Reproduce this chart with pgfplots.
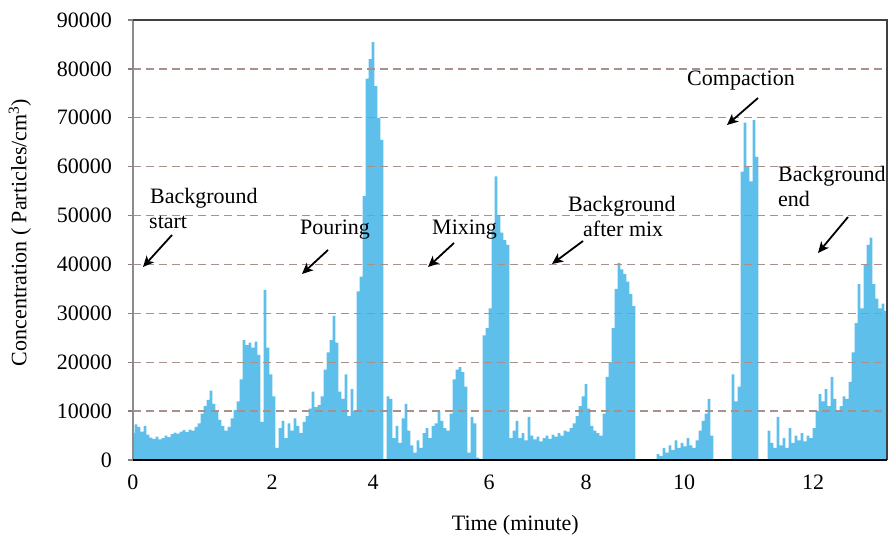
\documentclass[border=0pt]{standalone}
\usepackage{fontspec}
\setmainfont{Liberation Serif}
\usepackage{pgfplots}
\pgfplotsset{compat=1.18}
\usetikzlibrary{arrows.meta}
\definecolor{barblue}{HTML}{5DBFEA}
\definecolor{gridbrown}{RGB}{168,145,138}
\begin{document}
\begin{tikzpicture}
\begin{axis}[
  scale only axis, width=754pt, height=440pt,
  xmin=0, xmax=754, ymin=0, ymax=90000,
  xtick={0,139,240,356,453,551,680}, xticklabels={0,2,4,6,8,10,12},
  ytick={0,10000,20000,30000,40000,50000,60000,70000,80000,90000},
  scaled y ticks=false,
  /pgf/number format/assume math mode=true,
  y tick label style={/pgf/number format/fixed, /pgf/number format/1000 sep={}, anchor=east, inner sep=0pt, xshift=-16pt},
  x tick label style={anchor=base, yshift=-24pt},
  tick label style={font=\fontsize{22}{24}\selectfont},
  ytick pos=left, tick align=outside, major tick length=5pt,
  ytick style={gray, line width=1.4pt},
  xtick style={draw=none},
  ymajorgrids, major grid style={gridbrown, line width=1.4pt, dash pattern=on 8pt off 5pt},
  axis line style={draw=none},
  axis on top,
  xlabel={Time (minute)},
  xlabel style={at={(axis description cs:0.507,0)}, anchor=base, yshift=-70pt, font=\fontsize{22}{24}\selectfont},
  ylabel={Concentration ( Particles/cm\textsuperscript{3})},
  ylabel style={at={(axis description cs:-0.1499,0.517)}, anchor=center, font=\fontsize{22}{24}\selectfont},
]
\addplot[ybar, bar width=2.6, fill=barblue, draw=none] coordinates {
(0,5500)(3,7300)(6,6800)(9,5800)(12,7000)(15,5200)(18,4600)(21,4300)(24,4800)(27,4200)
(30,4500)(33,5000)(36,4700)(39,5300)(42,5600)(45,5400)(48,5800)(51,6100)(54,5700)(57,6200)
(60,6000)(63,6800)(66,7500)(69,9500)(72,11000)(75,12300)(78,14200)(81,11500)(84,9800)(87,8200)
(90,7000)(93,6000)(96,6800)(99,8500)(102,10200)(105,12000)(108,16500)(111,24500)(114,23500)(117,24000)
(120,23000)(123,24200)(126,21500)(129,7800)(132,34800)(135,23000)(138,17500)(141,13000)(144,2500)(147,6500)
(150,8000)(153,4500)(156,7500)(159,6000)(162,8500)(165,7000)(168,5500)(171,7800)(174,9000)(177,10500)
(180,14000)(183,10800)(186,11200)(189,13000)(192,18500)(195,22000)(198,24500)(201,29500)(204,24000)(207,14000)
(210,12500)(213,17500)(216,9000)(219,14500)(222,10000)(225,34500)(228,37500)(231,54000)(234,78000)(237,82000)
(240,85500)(243,76500)(246,70000)(249,65500)(252,0)(255,13000)(258,12500)(261,4500)(264,7000)(267,3500)
(270,8500)(273,11500)(276,6000)(279,3000)(282,1500)(285,4000)(288,2500)(291,5500)(294,6500)(297,4500)
(300,7000)(303,7500)(306,10000)(309,8000)(312,6500)(315,6000)(318,9500)(321,16500)(324,18500)(327,19000)
(330,18000)(333,15000)(336,1500)(339,8800)(342,7500)(345,500)(348,0)(351,25500)(354,27000)(357,31000)
(360,47000)(363,58000)(366,50000)(369,46500)(372,45000)(375,44000)(378,4500)(381,6000)(384,8000)(387,4500)
(390,5500)(393,4000)(396,8800)(399,5000)(402,4200)(405,4800)(408,3800)(411,4500)(414,5000)(417,4300)
(420,5200)(423,4800)(426,5500)(429,5000)(432,6000)(435,5800)(438,6500)(441,7500)(444,9000)(447,11000)
(450,13000)(453,15500)(456,10500)(459,7000)(462,6000)(465,5500)(468,5000)(471,9500)(474,17000)(477,20000)
(480,27000)(483,35000)(486,40300)(489,39000)(492,38000)(495,36500)(498,34000)(501,31500)(504,0)(507,0)
(510,0)(513,0)(516,0)(519,0)(522,0)(525,1200)(528,800)(531,2500)(534,1500)(537,3000)
(540,2000)(543,4000)(546,2500)(549,3500)(552,2800)(555,4500)(558,3000)(561,2500)(564,4000)(567,6000)
(570,8000)(573,9500)(576,12500)(579,5000)(582,0)(585,0)(588,0)(591,0)(594,0)(597,0)
(600,17500)(603,12000)(606,15000)(609,59000)(612,69000)(615,60000)(618,57000)(621,69500)(624,62000)(627,0)
(630,0)(633,0)(636,6000)(639,3500)(642,2500)(645,8800)(648,3000)(651,4500)(654,2500)(657,6500)
(660,3500)(663,5000)(666,4000)(669,5500)(672,3800)(675,5000)(678,4500)(681,6500)(684,10000)(687,13500)
(690,12000)(693,14500)(696,11000)(699,17000)(702,12500)(705,10000)(708,11000)(711,13000)(714,12500)(717,16000)
(720,22000)(723,28000)(726,36000)(729,31000)(732,40000)(735,44000)(738,45500)(741,36000)(744,33000)(747,31000)
(750,32000)(753,30500)
};
\coordinate (sw) at (rel axis cs:0,0);
\coordinate (ne) at (rel axis cs:1,1);
\end{axis}
\draw[line width=2.5pt, color=black!45] (sw) -- (sw|-ne);
\draw[line width=1.8pt, color=black!75] (sw|-ne) -- (ne) -- (ne|-sw);
\draw[line width=2pt, black] (sw) -- (ne|-sw);
\begin{scope}[shift={(sw)}, x=1pt, y=1pt, font=\fontsize{22}{24}\selectfont]
  \node[anchor=base west, inner sep=0pt] at (17,256) {Background};
  \node[anchor=base west, inner sep=0pt] at (16,231) {start};
  \node[anchor=base west, inner sep=0pt] at (167,225) {Pouring};
  \node[anchor=base west, inner sep=0pt] at (299,225) {Mixing};
  \node[anchor=base west, inner sep=0pt] at (435,248) {Background};
  \node[anchor=base west, inner sep=0pt] at (450,223) {after mix};
  \node[anchor=base west, inner sep=0pt] at (554,374) {Compaction};
  \node[anchor=base west, inner sep=0pt] at (645,278) {Background};
  \node[anchor=base west, inner sep=0pt] at (645,253) {end};
  \begin{scope}[line width=1.8pt, -{Stealth[length=11pt,width=10pt,inset=3pt]}]
    \draw (39,225) -- (10,193);
    \draw (195,210) -- (169,186);
    \draw (321,217) -- (295,193);
    \draw (450,219) -- (419,196);
    \draw (625,362) -- (594,335);
    \draw (715,243) -- (685,207);
  \end{scope}
\end{scope}
\pgfresetboundingbox
\path[use as bounding box] (sw) ++(-133pt,-75pt) rectangle ++(890pt,535pt);
\end{tikzpicture}
\end{document}
